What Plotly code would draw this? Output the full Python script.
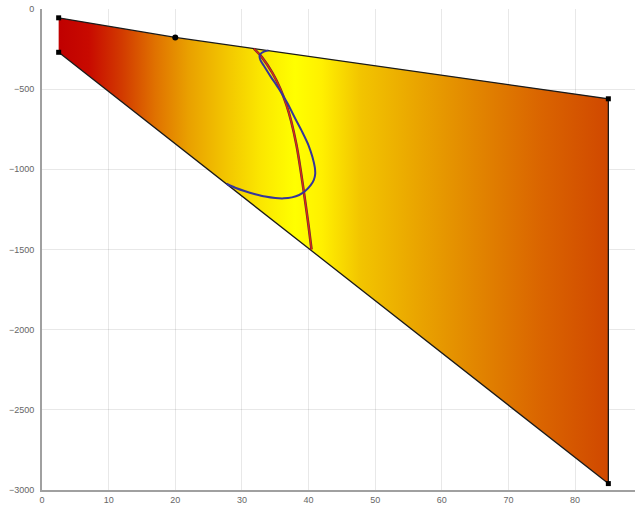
import plotly.graph_objects as go

# Region outline (vertices)
region_x = [2.5, 20, 85, 85, 2.5]
region_y = [-55, -177, -560, -2960, -270]

# Corner markers
corner_x = [2.5, 85, 85, 2.5]
corner_y = [-55, -560, -2960, -270]
mid_x = [20]
mid_y = [-177]

# Red curve
red_x = [31.8, 33.0, 34.6, 35.8, 36.7, 37.4, 38.2, 38.8, 39.5, 40.0, 40.45]
red_y = [-247, -300, -400, -500, -600, -700, -850, -1000, -1200, -1350, -1500]

# Blue loop curve
blue_x = [34.0, 33.3, 32.8, 32.65, 32.8, 33.3, 34.3, 35.5, 36.8, 38.0, 39.1, 40.0, 40.6, 40.95,
          41.0, 40.8, 40.3, 39.5, 38.6, 37.5, 36.3, 35.0, 33.5, 32.0, 30.5, 29.0, 27.7]
blue_y = [-258, -266, -280, -295, -320, -354, -420, -494, -585, -683, -770, -850, -925, -990,
          -1030, -1065, -1100, -1135, -1160, -1175, -1181, -1179, -1170, -1155, -1137, -1115, -1090]

xticks = [0, 10, 20, 30, 40, 50, 60, 70, 80]
yticks = [0, -500, -1000, -1500, -2000, -2500, -3000]

colorscale = [
    [0.0, "#c00000"],
    [0.055, "#c80a00"],
    [0.115, "#d23a00"],
    [0.176, "#e07200"],
    [0.236, "#e9a000"],
    [0.309, "#f3c800"],
    [0.37, "#fbe800"],
    [0.43, "#ffff00"],
    [0.479, "#fff000"],
    [0.55, "#f2c400"],
    [0.648, "#eaa600"],
    [0.758, "#e28600"],
    [0.879, "#da6400"],
    [1.0, "#d04800"],
]

fig = go.Figure()

fig.add_trace(go.Scatter(
    x=region_x, y=region_y, mode="lines", fill="toself",
    fillgradient=dict(type="horizontal", colorscale=colorscale, start=2.5, stop=85),
    line=dict(color="#1a1a1a", width=1.3), hoverinfo="skip", showlegend=False,
))

fig.add_trace(go.Scatter(
    x=red_x, y=red_y, mode="lines",
    line=dict(color="#6a2a3a", width=2.6, shape="spline", smoothing=0.8),
    showlegend=False,
))
fig.add_trace(go.Scatter(
    x=red_x, y=red_y, mode="lines",
    line=dict(color="#e02a10", width=1.3, shape="spline", smoothing=0.8),
    showlegend=False,
))
fig.add_trace(go.Scatter(
    x=blue_x, y=blue_y, mode="lines",
    line=dict(color="#35359a", width=2.0, shape="spline", smoothing=0.8),
    showlegend=False,
))

fig.add_trace(go.Scatter(
    x=corner_x, y=corner_y, mode="markers",
    marker=dict(symbol="square", size=5, color="#000000"), showlegend=False,
))
fig.add_trace(go.Scatter(
    x=mid_x, y=mid_y, mode="markers",
    marker=dict(symbol="circle", size=6, color="#000000"), showlegend=False,
))

axis_common = dict(
    showline=True, linecolor="#a0a0a0", linewidth=2,
    showgrid=True, gridcolor="rgba(0,0,0,0.09)", gridwidth=1,
    zeroline=False, ticks="", layer="above traces",
    tickfont=dict(family="Liberation Sans, Arial, sans-serif", size=9, color="#666666"),
)

fig.update_layout(
    width=635, height=505,
    margin=dict(l=42, r=0, t=9, b=10),
    paper_bgcolor="white", plot_bgcolor="white",
    xaxis=dict(range=[0, 89], tickvals=xticks, ticktext=[str(v) for v in xticks], **axis_common),
    yaxis=dict(range=[-3000, 0], tickvals=yticks, ticklabelstandoff=4, **axis_common),
)

fig.write_html("out.html")
